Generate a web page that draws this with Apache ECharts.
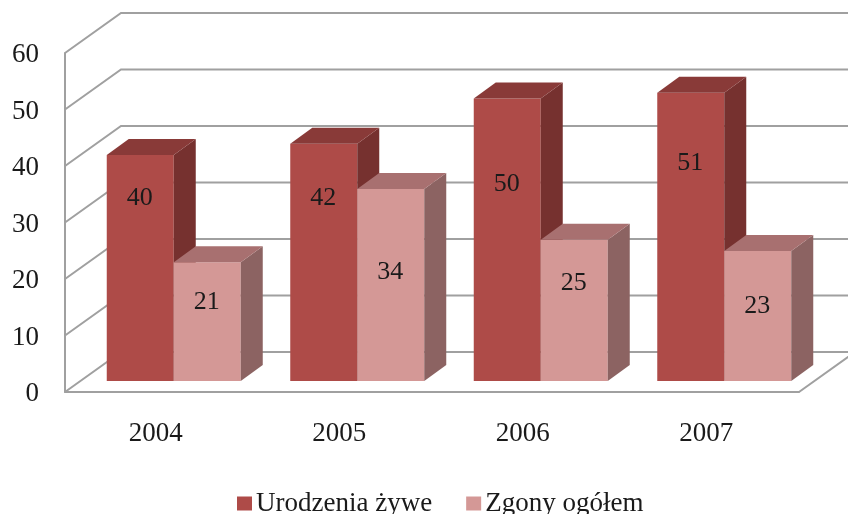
<!DOCTYPE html>
<html>
<head>
<meta charset="utf-8">
<style>html,body{margin:0;padding:0;background:#fff}#c{width:848px;height:514px;filter:blur(0.45px)}</style>
<script src="https://cdn.jsdelivr.net/npm/echarts@6/dist/echarts.min.js"></script>
</head>
<body>
<div id="c"></div>
<script>
var years = ['2004', '2005', '2006', '2007'];
var urodzenia = [40, 42, 50, 51];
var zgony = [21, 34, 25, 23];
var yTicks = [0, 10, 20, 30, 40, 50, 60];
var urodzeniaName = 'Urodzenia żywe';
var zgonyName = 'Zgony ogółem';

// Where each data label sits, read as a level on the value axis
var urodzeniaLabelLevel = [32.4, 32.4, 34.8, 38.6];
var zgonyLabelLevel = [14, 19.2, 17.3, 13.3];

var FONT = '"Liberation Serif", "Times New Roman", serif';
var TEXT = '#1a1a1a';
var GRID = '#a0a0a0';
var WALL_DX = 56, WALL_DY = -40;
var BAR_DX = 17, BAR_DY = -11;
var DEPTH_DX = 22, DEPTH_DY = -16;
var BAR_W = 67;

function wallItem(params, api) {
  var v = api.value(0);
  var cs = params.coordSys;
  var y = api.coord([0, v])[1];
  var x0 = cs.x, x1 = cs.x + cs.width;
  var pts = [[x0, y], [x0 + WALL_DX, y + WALL_DY], [x1 + WALL_DX, y + WALL_DY]];
  if (v === 0) pts.push([x1, y]);
  return {
    type: 'polyline', silent: true,
    shape: { points: pts },
    style: { stroke: GRID, lineWidth: 2, fill: null }
  };
}

function barRenderer(side, colors, levels) {
  return function (params, api) {
    var i = api.value(0);
    var p = api.coord([i, api.value(1)]);
    var b = api.coord([i, 0]);
    var cx = p[0] + BAR_DX;
    var xa = side < 0 ? cx - BAR_W : cx;
    var xb = xa + BAR_W;
    var top = p[1] + BAR_DY, base = b[1] + BAR_DY;
    var ly = api.coord([i, levels[i]])[1] + BAR_DY;
    return {
      type: 'group',
      children: [
        { type: 'rect', shape: { x: xa, y: top, width: BAR_W, height: base - top }, style: { fill: colors[0] } },
        { type: 'polygon', shape: { points: [[xb, top], [xb + DEPTH_DX, top + DEPTH_DY], [xb + DEPTH_DX, base + DEPTH_DY], [xb, base]] }, style: { fill: colors[1] } },
        { type: 'polygon', shape: { points: [[xa, top], [xa + DEPTH_DX, top + DEPTH_DY], [xb + DEPTH_DX, top + DEPTH_DY], [xb, top]] }, style: { fill: colors[2] } },
        { type: 'text', z2: 10, style: { x: (xa + xb) / 2 - 0.5, y: ly, text: String(api.value(1)), fill: TEXT, font: '26px ' + FONT, align: 'center', verticalAlign: 'middle' } }
      ]
    };
  };
}

var chart = echarts.init(document.getElementById('c'), null, { renderer: 'canvas' });
chart.setOption({
  animation: false,
  backgroundColor: '#fff',
  grid: { left: 65, top: 53, width: 734, height: 339 },
  legend: {
    data: [urodzeniaName, zgonyName],
    left: 237, top: 490,
    icon: 'rect', itemWidth: 15, itemHeight: 14, itemGap: 34,
    padding: 0,
    textStyle: { fontFamily: FONT, fontSize: 27, color: TEXT, padding: [2, 0, 0, -1] }
  },
  xAxis: {
    type: 'category', data: years,
    axisLine: { show: true, lineStyle: { color: GRID, width: 2 } },
    axisTick: { show: false },
    axisLabel: { fontFamily: FONT, fontSize: 27, color: TEXT, margin: 28, padding: [0, 2, 0, 0] }
  },
  yAxis: {
    type: 'value', min: 0, max: 60, interval: 10,
    axisLine: { show: true, lineStyle: { color: GRID, width: 2 } },
    axisTick: { show: false },
    splitLine: { show: false },
    axisLabel: {
      fontFamily: FONT, fontSize: 27, color: TEXT, margin: 26,
      formatter: '{a|{value}}',
      rich: { a: { fontFamily: FONT, fontSize: 27, color: TEXT, padding: [4, 0, 0, 0] } }
    }
  },
  series: [
    { type: 'custom', name: 'wall', silent: true, z: 1, clip: false, data: yTicks.map(function (t) { return [t]; }), encode: { x: -1, y: 0 }, renderItem: wallItem },
    { type: 'custom', name: urodzeniaName, z: 2, clip: false, itemStyle: { color: '#ae4b48' },
      data: urodzenia.map(function (v, i) { return [i, v]; }), encode: { x: 0, y: 1 },
      renderItem: barRenderer(-1, ['#ae4b48', '#76312f', '#893a38'], urodzeniaLabelLevel) },
    { type: 'custom', name: zgonyName, z: 3, clip: false, itemStyle: { color: '#d49896' },
      data: zgony.map(function (v, i) { return [i, v]; }), encode: { x: 0, y: 1 },
      renderItem: barRenderer(1, ['#d49896', '#8c6362', '#a87070'], zgonyLabelLevel) }
  ]
});
</script>
</body>
</html>
